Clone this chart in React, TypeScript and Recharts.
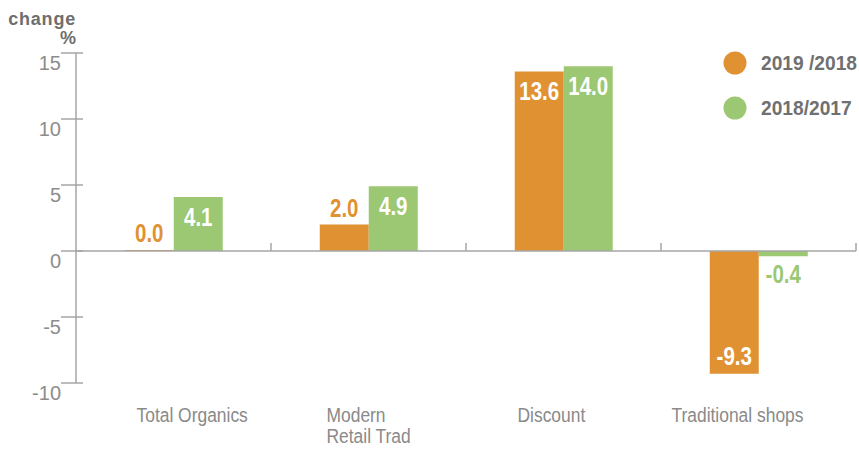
import React from 'react';
import { BarChart, Bar, XAxis, YAxis, ReferenceLine, LabelList } from 'recharts';

const categories = ['Total Organics', 'Modern\nRetail Trad', 'Discount', 'Traditional shops'];
const change2019 = [0.0, 2.0, 13.6, -9.3];
const change2018 = [4.1, 4.9, 14.0, -0.4];
const seriesNames = ['2019 /2018', '2018/2017'];
const yTicks = [-10, -5, 0, 5, 10, 15];

const ORANGE = '#e09233';
const GREEN = '#9cc773';
const COLORS = [ORANGE, GREEN];
const AXIS = '#a6a6a6';
const FONT = '"Liberation Sans", Arial, sans-serif';

// label start offsets from category centre (the source labels are not centred)
const LABEL_START = [-37, -42, -46, -87];

const data = categories.map((name, i) => ({
  name,
  a: change2019[i],
  b: change2018[i],
}));

// no condensed font installed, so squeeze the glyphs horizontally
const CText = (props: any) => {
  const { x, y, anchor = 'start', size, weight = 'normal', fill, lines, squeeze = 0.83, spacing = 0 } = props;
  return (
    <text
      transform={`translate(${x},${y}) scale(${squeeze},1)`}
      textAnchor={anchor}
      fontFamily={FONT}
      fontSize={size}
      fontWeight={weight}
      letterSpacing={spacing}
      fill={fill}
    >
      {lines.map((l: string, i: number) => (
        <tspan key={i} x={0} dy={i === 0 ? 0 : size}>
          {l}
        </tspan>
      ))}
    </text>
  );
};

const YTick = (props: any) => {
  const { x, y, payload } = props;
  return (
    <g>
      <line x1={x - 15} x2={x + 7} y1={y} y2={y} stroke={AXIS} strokeWidth={1.5} />
      <CText x={x - 15} y={y + 17} anchor="end" size={20} squeeze={1} fill="#8c8c8c" lines={[String(payload.value)]} />
    </g>
  );
};

const XTick = (props: any) => {
  const { x, y, payload, index } = props;
  const lines = String(payload.value).split('\n');
  return <CText x={x + LABEL_START[index]} y={y + 39} size={21} fill="#8a8a8a" lines={lines} />;
};

const makeLabel = (color: string) => (props: any) => {
  const { x, y, width, height, value } = props;
  const top = Math.min(y, y + height);
  const bottom = Math.max(y, y + height);
  const v = Number(value);
  const inside = Math.abs(v) >= 3;
  let ty;
  if (inside) ty = v >= 0 ? top + 29 : bottom - 9;
  else ty = v >= 0 ? top - 8 : bottom + 27;
  return (
    <CText
      x={x + width / 2}
      y={ty}
      anchor="middle"
      size={25}
      squeeze={0.82}
      weight="bold"
      fill={inside ? '#ffffff' : color}
      lines={[v.toFixed(1)]}
    />
  );
};

const ZeroLine = (props: any) => {
  const { x1, y1, x2 } = props;
  const band = (x2 - x1) / categories.length;
  return (
    <g>
      <line x1={x1} x2={x2} y1={y1} y2={y1} stroke={AXIS} strokeWidth={1.5} />
      {categories.map((_, i) => (
        <line key={i} x1={x1 + band * (i + 1)} x2={x1 + band * (i + 1)} y1={y1 - 8} y2={y1} stroke={AXIS} strokeWidth={1.5} />
      ))}
    </g>
  );
};

export default function App() {
  return (
    <div style={{ position: 'absolute', left: 0, top: 0, width: 859, height: 449, background: '#fff' }}>
      <BarChart
        width={859}
        height={449}
        data={data}
        margin={{ top: 53, right: 3, bottom: 0, left: 0 }}
        barCategoryGap="25%"
        barGap={0}
      >
        <XAxis dataKey="name" height={66} axisLine={false} tickLine={false} tickSize={0} tickMargin={0} interval={0} tick={<XTick />} />
        <YAxis
          domain={[-10, 15]}
          ticks={yTicks}
          width={76}
          axisLine={{ stroke: AXIS, strokeWidth: 1.5 }}
          tickLine={false}
          tickSize={0}
          tickMargin={0}
          tick={<YTick />}
        />
        <Bar dataKey="a" name={seriesNames[0]} fill={ORANGE} minPointSize={(v: number) => (v === 0 ? 1 : 0)} isAnimationActive={false}>
          <LabelList dataKey="a" content={makeLabel(ORANGE)} />
        </Bar>
        <Bar dataKey="b" name={seriesNames[1]} fill={GREEN} isAnimationActive={false}>
          <LabelList dataKey="b" content={makeLabel(GREEN)} />
        </Bar>
        <ReferenceLine y={0} shape={ZeroLine} />
      </BarChart>
      <svg width={859} height={449} style={{ position: 'absolute', left: 0, top: 0, pointerEvents: 'none' }}>
        <CText x={76} y={25} anchor="end" size={18} squeeze={1} spacing={0.8} weight="bold" fill="#6e6e6e" lines={['change']} />
        <CText x={76} y={44} anchor="end" size={18} squeeze={1} weight="bold" fill="#6e6e6e" lines={['%']} />
        {seriesNames.map((s, i) => (
          <g key={s}>
            <circle cx={735} cy={63 + i * 45} r={11.5} fill={COLORS[i]} />
            <CText x={761} y={70 + i * 45} size={20} squeeze={0.96} weight="bold" fill="#707070" lines={[s]} />
          </g>
        ))}
      </svg>
    </div>
  );
}
